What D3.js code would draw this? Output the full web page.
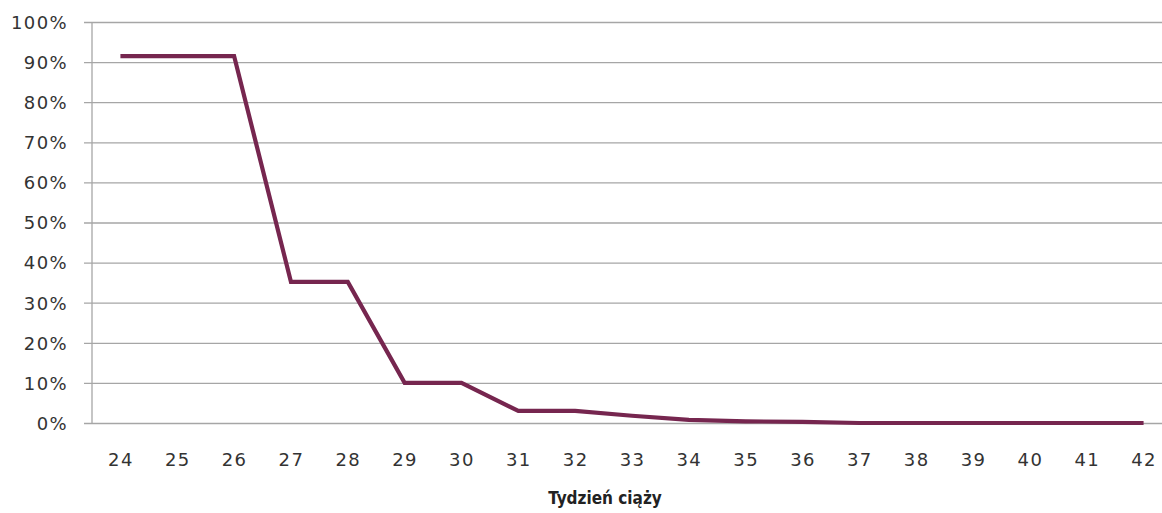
<!DOCTYPE html>
<html><head><meta charset="utf-8">
<script src="https://cdn.jsdelivr.net/npm/d3@7"></script>
<style>body{margin:0;background:#fff}svg{display:block}</style>
</head><body>
<svg id="c" width="1162" height="513"></svg>
<script>
const weeks = ["24","25","26","27","28","29","30","31","32","33","34","35","36","37","38","39","40","41","42"];
const values = [0.915,0.915,0.915,0.352,0.352,0.10,0.10,0.03,0.03,0.018,0.008,0.004,0.003,0,0,0,0,0,0];
const yTicks = [0,0.1,0.2,0.3,0.4,0.5,0.6,0.7,0.8,0.9,1.0];
const xTitle = "Tydzień ciąży";

const svg = d3.select("#c");
const mLeft = 92, mRight = 1172, gridRight = 1162, mTop = 22, mBottom = 423;
const x = d3.scalePoint().domain(weeks).range([mLeft, mRight]).padding(0.5);
const y = d3.scaleLinear().domain([0,1]).range([mBottom, mTop]);

const font = "DejaVu Sans, Verdana, sans-serif";
const yAxis = d3.axisLeft(y).tickValues(yTicks).tickFormat(d3.format(".0%"))
  .tickSize(-(gridRight - mLeft)).tickPadding(24);
const gy = svg.append("g").attr("transform", `translate(${mLeft},0)`).call(yAxis);
gy.select(".domain").remove();
gy.selectAll(".tick line").attr("stroke", "#a6a6a6").attr("stroke-width", 1.3).attr("x1", -8);
gy.selectAll(".tick text").attr("fill", "#333").style("font-family", font).style("font-size", "18px")
  .style("letter-spacing", "1.4px").attr("dy", "0.35em");
svg.append("line").attr("x1", mLeft).attr("x2", mLeft).attr("y1", mTop).attr("y2", mBottom)
  .attr("stroke", "#a6a6a6").attr("stroke-width", 1.3);

const xAxis = d3.axisBottom(x).tickSize(0).tickPadding(0);
const gx = svg.append("g").attr("transform", `translate(0,${mBottom})`).call(xAxis);
gx.select(".domain").remove();
gx.selectAll(".tick text").attr("fill", "#333").style("font-family", font).style("font-size", "18px")
  .style("letter-spacing", "1.4px").attr("y", 37).attr("dy", "0.35em");

svg.append("text").attr("x", 605).attr("y", 498).attr("dy", "0.35em").attr("text-anchor", "middle")
  .attr("fill", "#222").style("font-family", "'DejaVu Sans Condensed', 'DejaVu Sans', sans-serif")
  .style("font-stretch", "condensed").style("font-size", "17px").style("font-weight", "bold")
  .text(xTitle);

const line = d3.line().x((d, i) => x(weeks[i])).y(d => y(d));
svg.append("path").datum(values).attr("d", line).attr("fill", "none")
  .attr("stroke", "#76264f").attr("stroke-width", 4.2).attr("stroke-linejoin", "miter");
</script>
</body></html>
